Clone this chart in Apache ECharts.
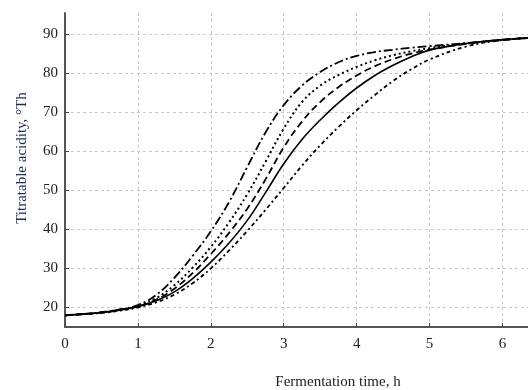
<!DOCTYPE html>
<html><head><meta charset="utf-8">
<script src="https://cdn.jsdelivr.net/npm/echarts@6/dist/echarts.min.js"></script>
<style>html,body{margin:0;padding:0;background:#fff}#c{width:528px;height:390px}</style>
</head><body><div id="c"></div>
<script>
const timeH = [0, 0.25, 0.5, 0.75, 1, 1.25, 1.5, 1.75, 2, 2.25, 2.5, 2.75, 3, 3.25, 3.5, 3.75, 4, 4.25, 4.5, 4.75, 5, 5.5, 6, 6.35];
const curveDashDot  = [18, 18.3, 18.8, 19.5, 20.6, 23.2, 27.6, 33.2, 39.5, 47.0, 56.0, 64.8, 71.8, 76.8, 80.3, 82.8, 84.4, 85.4, 86.0, 86.5, 86.9, 87.7, 88.5, 89.0];
const curveDotted   = [18, 18.3, 18.7, 19.4, 20.4, 22.4, 25.7, 30.2, 35.5, 41.8, 49.0, 57.3, 65.8, 72.6, 76.8, 79.5, 81.6, 83.3, 84.6, 85.6, 86.4, 87.6, 88.5, 89.0];
const curveDashed   = [18, 18.3, 18.7, 19.4, 20.3, 22.0, 24.8, 28.8, 33.7, 39.1, 45.3, 52.8, 61.0, 67.6, 72.6, 76.4, 79.4, 81.8, 83.6, 85.0, 86.0, 87.5, 88.5, 89.0];
const curveSolid    = [18, 18.3, 18.7, 19.3, 20.2, 21.7, 24.0, 27.4, 31.6, 36.5, 42.3, 49.4, 56.8, 63.0, 68.0, 72.4, 76.2, 79.4, 82.0, 84.2, 85.9, 87.6, 88.6, 89.0];
const curveDashDot2 = [18, 18.3, 18.6, 19.2, 20.0, 21.3, 23.3, 26.2, 30.0, 34.6, 39.6, 45.0, 50.6, 56.3, 61.5, 66.2, 70.5, 74.4, 78.0, 81.0, 83.5, 86.8, 88.5, 89.0];
const xTitle = "Fermentation time, h";
const yTitle = "Titratable acidity, °Th";

const serif = "'Liberation Serif','DejaVu Serif',serif";
function pairs(ys){ return timeH.map((t,i)=>[t, ys[i]]); }
function mk(name, ys, type, w){
  return {name, type:'line', data:pairs(ys), showSymbol:false, smooth:0.4,
    lineStyle:{color:'#000', width:w, type:type}};
}
const chart = echarts.init(document.getElementById('c'), null, {renderer:'canvas'});
chart.setOption({
  animation:false,
  backgroundColor:'#fff',
  grid:{left:65, right:0, top:13, bottom:63, containLabel:false, outerBoundsMode:'none'},
  xAxis:{type:'value', min:0, max:6.35, interval:1,
    axisLine:{lineStyle:{color:'#555', width:2}},
    axisTick:{inside:true, length:4, lineStyle:{color:'#444'}},
    axisLabel:{showMaxLabel:false, color:'#222', fontFamily:serif, fontSize:15, margin:10},
    splitLine:{show:true, showMaxLine:false, showMinLine:false, lineStyle:{color:'#c8c8c8', type:[3,3], width:1}}
  },
  yAxis:{type:'value', min:15, max:95.4, splitNumber:8, minInterval:10, maxInterval:10,
    axisLine:{show:true, lineStyle:{color:'#555', width:2}},
    axisTick:{show:true, inside:true, length:4, lineStyle:{color:'#444'}},
    axisLabel:{showMinLabel:false, showMaxLabel:false, color:'#222', fontFamily:serif, fontSize:15, margin:7},
    splitLine:{show:true, showMaxLine:false, showMinLine:false, lineStyle:{color:'#c8c8c8', type:[3,3], width:1}}
  },
  graphic:[
    {type:'text', x:22, y:158, rotation:Math.PI/2, style:{text:yTitle, fill:'#1c2c55', font:"15px "+serif, textAlign:'center', textVerticalAlign:'middle'}},
    {type:'text', x:338, y:382, style:{text:xTitle, fill:'#222', font:"15px "+serif, textAlign:'center', textVerticalAlign:'middle'}}
  ],
  series:[
    mk('A', curveDashDot, [9,3,2,3], 1.8),
    mk('B', curveDotted, [2,3], 2),
    mk('C', curveDashed, [7,4], 1.8),
    mk('D', curveSolid, 'solid', 1.6),
    mk('E', curveDashDot2, [4,3,2,3], 1.8)
  ]
});
</script></body></html>
